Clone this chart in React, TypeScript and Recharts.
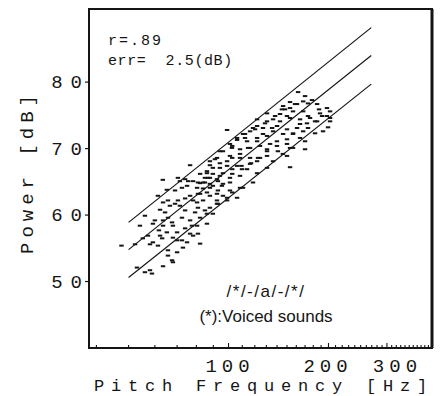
import React from 'react';
import { ScatterChart, Scatter, XAxis, YAxis, ReferenceArea, ReferenceLine } from 'recharts';

// pitch frequency [Hz], power [dB]
const voicedPoints: [number, number][] = [
  [63.4, 65.3], [70.4, 65.6], [61.3, 62.9], [62.2, 60.8], [47.6, 55.4], [52.3, 55.6], [55.2, 56.5], [58.0, 55.6],
  [62.2, 56.9], [63.1, 56.5], [61.3, 55.4], [65.7, 54.7], [70.0, 54.4], [67.6, 53.2], [63.5, 52.3], [58.0, 51.7],
  [56.0, 51.4], [53.0, 52.1], [68.0, 52.9], [72.9, 55.1], [75.0, 55.9], [70.0, 56.2], [65.2, 57.4], [68.0, 58.4],
  [67.6, 58.9], [65.7, 59.6], [72.4, 59.6], [76.6, 59.2], [78.2, 56.9], [80.9, 57.2], [86.1, 58.7], [82.1, 59.6],
  [79.3, 60.4], [74.0, 60.7], [71.4, 61.4], [69.0, 61.7], [74.0, 62.5], [76.6, 62.9], [80.9, 63.2], [87.9, 62.9],
  [92.3, 62.2], [87.9, 61.1], [84.9, 60.7], [80.4, 61.9], [72.4, 64.1], [75.0, 64.4], [78.2, 65.1], [82.1, 64.8],
  [86.7, 65.6], [89.7, 66.2], [92.9, 65.1], [95.5, 64.4], [87.9, 64.1], [83.8, 64.0], [82.1, 66.2], [86.1, 66.3],
  [92.9, 63.7], [96.2, 62.9], [75.6, 65.1], [71.4, 65.1], [65.7, 62.2], [63.5, 58.4], [70.0, 57.4], [74.0, 58.0],
  [77.6, 58.4], [80.4, 58.4], [86.1, 60.2], [89.7, 60.2],
  [58.8, 51.2], [65.7, 53.9], [82.1, 55.7], [92.9, 61.7], [76.6, 57.2], [72.4, 56.2], [68.0, 56.6], [59.2, 55.9],
  [61.7, 57.7], [63.5, 59.2],
  [162, 78.5], [178.4, 77.3], [187.3, 75.9], [202.2, 75.6], [202.2, 74.6], [199.4, 73.2], [182.2, 72.3], [170, 71.1],
  [170, 69.9], [156.4, 70.1], [150, 68.9], [173.5, 76.8], [167.8, 77.1], [153.2, 77.0], [144.8, 75.9], [130.6, 75.3],
  [121.9, 74.4], [118.5, 73.1], [112.1, 72.2], [106.1, 71.3], [101.0, 70.7], [94.2, 69.6], [91.0, 68.4], [87.9, 67.5],
  [76.6, 67.5], [74.0, 65.4], [69.0, 63.7], [63.5, 61.9], [59.2, 58.7], [57.2, 56.9], [65.2, 63.8], [84.9, 64.9],
  [94.2, 67.1], [99.0, 68.1], [102.6, 68.6], [108.3, 69.2], [114.5, 70.1], [121.9, 71.1], [127.0, 72.2], [135.3, 73.1],
  [142.9, 74.1], [150.0, 74.9], [156.4, 75.6], [139.9, 71.1], [130.6, 69.9], [122.7, 68.6], [116.1, 67.7], [109.8, 66.9],
  [102.6, 66.2], [101.0, 64.9], [99.0, 62.6], [102.6, 63.4], [110.6, 64.1], [118.5, 64.9], [121.9, 66.3], [130.6, 67.1],
  [136.2, 68.1], [145.8, 69.2], [153.2, 70.1], [164.2, 71.6], [173.5, 73.1], [184.8, 74.1], [192.6, 72.6], [99.0, 72.8],
  [153.2, 67.2],
  [146, 76.4], [153.2, 76.1], [160.8, 76.7], [167.8, 75.6], [173.5, 74.9], [184.8, 76.7], [197.9, 76.1], [191.3, 74.9],
  [182.2, 74.1], [172.3, 73.8], [164.2, 74.4], [153.2, 74.6], [142.9, 75.2], [136.2, 74.4], [130.6, 74.1], [140, 73.4],
  [150, 72.9], [160.8, 73.1], [167.8, 72.6], [156.4, 72.2], [146, 72.2], [136.2, 72.6], [127, 73.1], [121.9, 73.4],
  [116.1, 72.6], [110.6, 72.2], [106.1, 71.6], [113.7, 71.1], [121.9, 71.6], [130.6, 71.9], [133.4, 70.7], [124.4, 70.4],
  [116.1, 70.1], [108.3, 69.9], [102.4, 70.1], [96.2, 69.6], [101, 68.9], [108.3, 68.6], [116.1, 68.6], [121.9, 68.1],
  [130.6, 68.9], [140.8, 69.6], [150, 70.7], [92.3, 68.6], [87.9, 68.1], [94.2, 67.8], [99, 67.4], [106.1, 67.4],
  [113.7, 66.9], [89.7, 67.1], [86.1, 66.6], [87.9, 65.6], [94.2, 65.9], [101, 65.6], [108.3, 65.9], [96.2, 64.7],
  [89.7, 64.4], [83.8, 64.9], [80.4, 64.1], [86.1, 63.4], [92.3, 63.2], [101, 63.7], [108.3, 64.1], [106.1, 62.6],
  [99, 62.2], [92.3, 61.7], [83.8, 62.2], [80.9, 61.1],
  [78.2, 62.2], [82.1, 63.2], [87.9, 64.7], [80.9, 64.9], [84.9, 65.6], [92.3, 65.4], [96.2, 66.3], [102.6, 66.9],
  [109.4, 67.4], [116.9, 67.8], [124.4, 68.6], [130.6, 69.6], [139.9, 70.4], [150.0, 71.4], [156.4, 72.3], [164.2, 73.7],
  [176.0, 74.6], [188.6, 75.3], [197.9, 74.9], [202.2, 74.1], [102.6, 70.4], [112.1, 71.6], [120.2, 72.9], [128.8, 73.8],
  [138.1, 74.9], [148.0, 75.9], [158.6, 76.7], [170.0, 77.9], [56.0, 59.9], [54.1, 58.4], [60.0, 59.2], [64.4, 60.4],
  [66.6, 61.4], [70.4, 62.2],
];

// regression line and +/- band, end points
const fitFreq = [50, 269];
const upperDb = [58.9, 88.2];
const centerDb = [54.8, 84.0];
const lowerDb = [50.6, 79.7];

const xLabels = [100, 200, 300];
const xMinorTicks = [40, 50, 60, 70, 80, 90, 100, 110, 120, 130, 140, 150, 160, 170, 180, 190, 200,
  210, 220, 230, 240, 250, 260, 270, 280, 290, 300, 310, 320, 330, 340, 350, 360, 370, 380, 390, 400];
const yTicks = [50, 60, 70, 80];

const INK = '#151515';
const MONO = '"Liberation Mono", "DejaVu Sans Mono", monospace';
const NARROW = '"Liberation Sans Narrow", "Liberation Sans", Arial, sans-serif';

const points = voicedPoints.map(([f, db]) => ({ f, db }));
const lineData = (dbs: number[]) => fitFreq.map((f, i) => ({ f, db: dbs[i] }));

// typewritten labels sit a little off the true tick positions
const labelShift: Record<number, number> = { 100: -1, 200: -3, 300: 8 };

const XTick = (props: any) => {
  const { x, y, payload } = props;
  const v = payload.value;
  const major = xLabels.includes(v);
  return (
    <g>
      <line x1={x} x2={x} y1={y} y2={y - (major ? 5 : 3)} stroke={INK} strokeWidth={1.1} />
      {major && (
        <text x={x + labelShift[v] + 2.5} y={y + 24} textAnchor="middle" fontFamily={MONO} fontSize={19}
          letterSpacing={5} fill={INK}>{v}</text>
      )}
    </g>
  );
};

const YTick = (props: any) => {
  const { x, y, payload } = props;
  return (
    <g>
      <line x1={x} x2={x - 4} y1={y} y2={y} stroke={INK} strokeWidth={1.2} />
      <text x={x - 7 + 8} y={y + 6} textAnchor="end" fontFamily={MONO} fontSize={19}
        letterSpacing={8} fill={INK}>{payload.value}</text>
    </g>
  );
};

const Dash = (props: any) => {
  const { cx, cy } = props;
  if (cx == null || cy == null) return <g />;
  return <rect x={cx - 2.2} y={cy - 1} width={4.4} height={2} fill={INK} />;
};

export default function App() {
  return (
    <div style={{ position: 'relative', width: 435, height: 388 }}>
      <ScatterChart width={435} height={388} margin={{ top: 1, right: 11, bottom: 0, left: 0 }}>
        <XAxis dataKey="f" type="number" scale="log" domain={[38, 410]} allowDataOverflow ticks={xMinorTicks}
          interval={0} tick={(p: any) => <XTick {...p} />} tickLine={false} axisLine={false}
          tickSize={0} tickMargin={0} height={48} />
        <YAxis dataKey="db" type="number" domain={[40, 91]} allowDataOverflow ticks={yTicks} interval={0}
          tick={(p: any) => <YTick {...p} />} tickLine={false} axisLine={false} tickSize={0} tickMargin={0} width={81} />
        <ReferenceArea x1={38} x2={410} y1={40} y2={91} fill="none" stroke={INK} strokeWidth={2} ifOverflow="visible" />
        <ReferenceLine x={410} stroke={INK} strokeWidth={3} ifOverflow="visible" />
        <Scatter data={lineData(upperDb)} line={{ stroke: INK, strokeWidth: 1.2 }} shape={() => <g />} isAnimationActive={false} />
        <Scatter data={lineData(centerDb)} line={{ stroke: INK, strokeWidth: 1.2 }} shape={() => <g />} isAnimationActive={false} />
        <Scatter data={lineData(lowerDb)} line={{ stroke: INK, strokeWidth: 1.2 }} shape={() => <g />} isAnimationActive={false} />
        <Scatter data={points} shape={(p: any) => <Dash {...p} />} isAnimationActive={false} />
      </ScatterChart>
      <svg width={443} height={396} style={{ position: 'absolute', left: -8, top: -8, pointerEvents: 'none' }}>
        <g fontFamily={MONO} fontSize={15} fill={INK}>
          <text x={108} y={45} letterSpacing={2}>r=.89</text>
          <text x={108} y={65} letterSpacing={0.6}>{'err=\u00a0\u00a02.5(dB)'}</text>
        </g>
        <g fontFamily={NARROW} fontSize={17} fill={INK} textAnchor="middle">
          <text x={266} y={297} letterSpacing={1.5}>/*/-/a/-/*/</text>
          <text x={266} y={322}>(*):Voiced sounds</text>
        </g>
        <text x={94} y={391} fontFamily={MONO} fontSize={17} letterSpacing={6.8}
          fill={INK}>Pitch Frequency [Hz]</text>
        <text transform="translate(33 172) rotate(-90)" x={0} y={0} textAnchor="middle" fontFamily={MONO}
          fontSize={19} letterSpacing={5} fill={INK}>Power [dB]</text>
      </svg>
    </div>
  );
}
